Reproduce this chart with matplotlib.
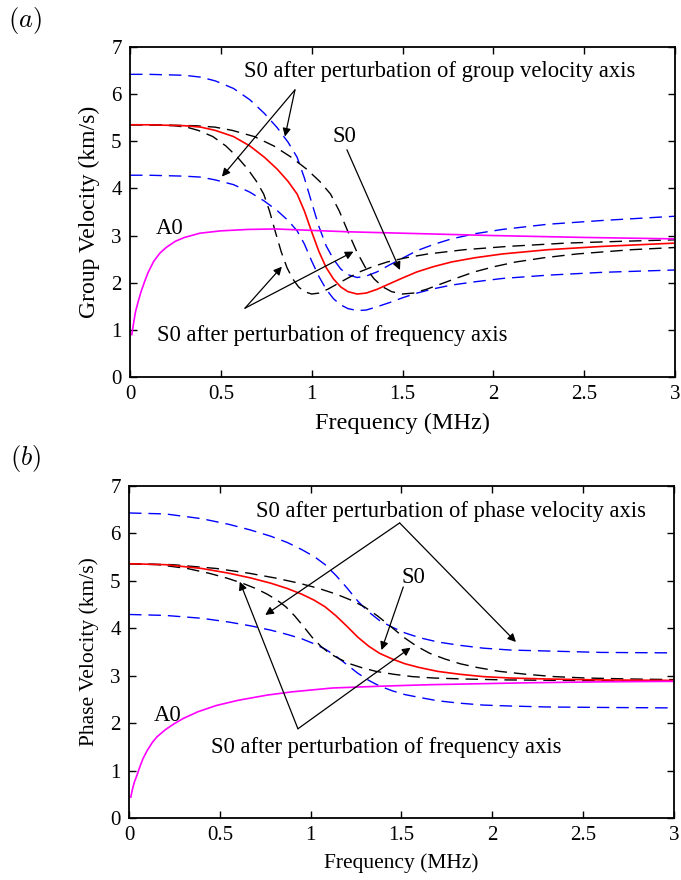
import matplotlib
matplotlib.use('Agg')
import matplotlib.pyplot as plt

plt.rcParams['font.family'] = ['Liberation Serif', 'DejaVu Serif']
plt.rcParams['mathtext.fontset'] = 'cm'

# ---------- (a) group velocity ----------
s0_g_f = [0.00, 0.10, 0.20, 0.30, 0.39, 0.47, 0.57, 0.66, 0.74, 0.81, 0.87, 0.92, 0.96, 1.00, 1.04, 1.08,
          1.12, 1.16, 1.20, 1.25, 1.30, 1.36, 1.43, 1.50, 1.58, 1.67, 1.77, 1.90, 2.05, 2.30, 2.60, 3.00,
          3.40, 3.75]
s0_g_v = [5.35, 5.35, 5.34, 5.33, 5.30, 5.23, 5.10, 4.90, 4.66, 4.41, 4.15, 3.88, 3.52, 3.08, 2.66, 2.32,
          2.08, 1.91, 1.81, 1.76, 1.78, 1.86, 1.98, 2.10, 2.23, 2.34, 2.44, 2.53, 2.61, 2.70, 2.77, 2.84,
          2.88, 2.91]

# S0 with group velocity axis perturbed (up / down)
s0_g_vhi = [6.42, 6.42, 6.41, 6.40, 6.36, 6.28, 6.12, 5.88, 5.59, 5.29, 4.98, 4.66, 4.22, 3.70, 3.19, 2.78,
            2.50, 2.29, 2.17, 2.11, 2.14, 2.23, 2.38, 2.52, 2.68, 2.81, 2.93, 3.04, 3.13, 3.24, 3.32, 3.41]
s0_g_vlo = [4.28, 4.28, 4.27, 4.26, 4.24, 4.18, 4.08, 3.92, 3.73, 3.53, 3.32, 3.10, 2.82, 2.46, 2.13, 1.86,
            1.66, 1.53, 1.45, 1.41, 1.42, 1.49, 1.58, 1.68, 1.78, 1.87, 1.95, 2.02, 2.09, 2.16, 2.22, 2.27]

# S0 with frequency axis perturbed (down / up)
s0_g_flo = [0.00, 0.08, 0.16, 0.24, 0.312, 0.376, 0.456, 0.528, 0.592, 0.648, 0.696, 0.736, 0.768, 0.80,
            0.832, 0.864, 0.896, 0.928, 0.96, 1.00, 1.04, 1.088, 1.144, 1.20, 1.264, 1.336, 1.416, 1.52,
            1.64, 1.84, 2.08, 2.40, 2.72, 3.00]
s0_g_fhi = [0.00, 0.12, 0.24, 0.36, 0.468, 0.564, 0.684, 0.792, 0.888, 0.972, 1.044, 1.104, 1.152, 1.20,
            1.248, 1.296, 1.344, 1.392, 1.44, 1.50, 1.56, 1.632, 1.716, 1.80, 1.896, 2.004, 2.124, 2.28,
            2.46, 2.76, 3.12]

a0_g_f = [0.01, 0.02, 0.03, 0.045, 0.06, 0.08, 0.10, 0.13, 0.165, 0.20, 0.25, 0.30, 0.385, 0.50, 0.65,
          0.80, 1.00, 1.20, 1.50, 2.00, 2.50, 3.00]
a0_g_v = [0.90, 1.15, 1.38, 1.60, 1.80, 2.02, 2.22, 2.45, 2.63, 2.75, 2.88, 2.96, 3.05, 3.10, 3.13,
          3.14, 3.11, 3.08, 3.05, 3.00, 2.96, 2.93]

# ---------- (b) phase velocity ----------
s0_p_f = [0.00, 0.20, 0.40, 0.55, 0.67, 0.78, 0.87, 0.95, 1.02, 1.08, 1.14, 1.20, 1.26, 1.32, 1.38, 1.45,
          1.52, 1.60, 1.70, 1.82, 1.95, 2.10, 2.30, 2.60, 3.00, 3.40, 3.75]
s0_p_v = [5.36, 5.34, 5.26, 5.16, 5.06, 4.95, 4.84, 4.72, 4.59, 4.45, 4.26, 4.04, 3.81, 3.62, 3.47, 3.35,
          3.25, 3.17, 3.09, 3.03, 2.98, 2.95, 2.93, 2.91, 2.90, 2.89, 2.88]

s0_p_vhi = [6.43, 6.41, 6.31, 6.19, 6.07, 5.94, 5.81, 5.66, 5.51, 5.34, 5.11, 4.85, 4.57, 4.34, 4.16, 4.02,
            3.90, 3.80, 3.71, 3.64, 3.58, 3.54, 3.52, 3.49, 3.48]
s0_p_vlo = [4.29, 4.27, 4.21, 4.13, 4.05, 3.96, 3.87, 3.78, 3.67, 3.56, 3.41, 3.23, 3.05, 2.90, 2.78, 2.68,
            2.60, 2.54, 2.47, 2.42, 2.38, 2.36, 2.34, 2.33, 2.32]

s0_p_flo = [0.00, 0.16, 0.32, 0.44, 0.536, 0.624, 0.696, 0.76, 0.816, 0.864, 0.912, 0.96, 1.008, 1.056,
            1.104, 1.16, 1.216, 1.28, 1.36, 1.456, 1.56, 1.68, 1.84, 2.08, 2.40, 2.72, 3.00]
s0_p_fhi = [0.00, 0.24, 0.48, 0.66, 0.804, 0.936, 1.044, 1.14, 1.224, 1.296, 1.368, 1.44, 1.512, 1.584,
            1.656, 1.74, 1.824, 1.92, 2.04, 2.184, 2.34, 2.52, 2.76, 3.12]

a0_p_f = [0.01, 0.02, 0.03, 0.044, 0.06, 0.077, 0.10, 0.13, 0.154, 0.20, 0.25, 0.30, 0.38, 0.48, 0.60,
          0.76, 0.90, 1.12, 1.40, 1.66, 2.20, 2.60, 3.00]
a0_p_v = [0.44, 0.62, 0.76, 0.90, 1.08, 1.25, 1.42, 1.60, 1.71, 1.86, 1.99, 2.10, 2.24, 2.37, 2.48,
          2.59, 2.66, 2.74, 2.78, 2.81, 2.85, 2.87, 2.88]

xticks = [0, 0.5, 1, 1.5, 2, 2.5, 3]
xticklabels = ['0', '0.5', '1', '1.5', '2', '2.5', '3']

DASH = (9, 5)
TXT = 16.3


def style_axes(ax, ylabel, xsize, ysize):
    ax.set_xlim(0, 3)
    ax.set_ylim(0, 7)
    ax.set_xticks(xticks)
    ax.set_xticklabels(xticklabels)
    ax.set_yticks(range(8))
    ax.tick_params(direction='in', top=True, right=True, length=5, width=1.0, labelsize=15, pad=6)
    for sp in ax.spines.values():
        sp.set_linewidth(1.3)
    ax.set_xlabel('Frequency (MHz)', fontsize=xsize, labelpad=6)
    ax.set_ylabel(ylabel, fontsize=ysize, labelpad=8)


def arrow(ax, start, end):
    ax.annotate('', xy=end, xytext=start,
                arrowprops=dict(arrowstyle='-|>', color='black', lw=0.9,
                                mutation_scale=12, shrinkA=0, shrinkB=0))


def draw_curves(ax, f, v, vhi, vlo, flo, fhi, af, av):
    n = len(vhi)
    ax.plot(f[:n], vhi, color='#0000ff', lw=1.0, dashes=DASH)
    ax.plot(f[:n], vlo, color='#0000ff', lw=1.0, dashes=DASH)
    ax.plot(flo, v[:len(flo)], color='black', lw=1.0, dashes=DASH)
    ax.plot(fhi, v[:len(fhi)], color='black', lw=1.0, dashes=DASH)
    ax.plot(f, v, color='#ff0000', lw=1.2)
    ax.plot(af, av, color='#ff00ff', lw=1.2)


fig = plt.figure(figsize=(6.81, 8.80), dpi=100)

# ---------- panel (a) ----------
ax1 = fig.add_axes([0.1909, 0.5716, 0.8003, 0.3750])
draw_curves(ax1, s0_g_f, s0_g_v, s0_g_vhi, s0_g_vlo, s0_g_flo, s0_g_fhi, a0_g_f, a0_g_v)

ax1.text(0.63, 6.48, 'S0 after perturbation of group velocity axis', fontsize=TXT, va='center', ha='left')
arrow(ax1, (0.908, 6.09), (0.506, 4.25))
arrow(ax1, (0.908, 6.09), (0.853, 5.10))
ax1.text(1.18, 5.10, 'S0', fontsize=TXT, ha='center', va='center')
arrow(ax1, (1.194, 4.82), (1.486, 2.27))
ax1.text(0.22, 3.16, 'A0', fontsize=TXT, ha='center', va='center')
ax1.text(0.15, 0.89, 'S0 after perturbation of frequency axis', fontsize=TXT, ha='left', va='center')
arrow(ax1, (0.633, 1.46), (0.836, 2.34))
arrow(ax1, (0.633, 1.46), (1.23, 2.66))
style_axes(ax1, 'Group Velocity (km/s)', 17.5, 17)

# ---------- panel (b) ----------
ax2 = fig.add_axes([0.1894, 0.0705, 0.8003, 0.3773])
draw_curves(ax2, s0_p_f, s0_p_v, s0_p_vhi, s0_p_vlo, s0_p_flo, s0_p_fhi, a0_p_f, a0_p_v)

ax2.text(0.70, 6.46, 'S0 after perturbation of phase velocity axis', fontsize=TXT, ha='left', va='center')
arrow(ax2, (1.49, 6.22), (0.75, 4.28))
arrow(ax2, (1.49, 6.22), (2.13, 3.71))
ax2.text(1.565, 5.08, 'S0', fontsize=TXT, ha='center', va='center')
arrow(ax2, (1.51, 4.87), (1.39, 3.54))
ax2.text(0.215, 2.17, 'A0', fontsize=TXT, ha='center', va='center')
ax2.text(0.45, 1.48, 'S0 after perturbation of frequency axis', fontsize=TXT, ha='left', va='center')
arrow(ax2, (0.93, 1.88), (0.61, 4.98))
arrow(ax2, (0.93, 1.88), (1.55, 3.59))
style_axes(ax2, 'Phase Velocity (km/s)', 15.5, 15.5)

fig.text(0.037, 0.977, r'$(a)$', fontsize=19, ha='center', va='center')
fig.text(0.037, 0.479, r'$(b)$', fontsize=19, ha='center', va='center')

fig.savefig('out.png', dpi=100)
